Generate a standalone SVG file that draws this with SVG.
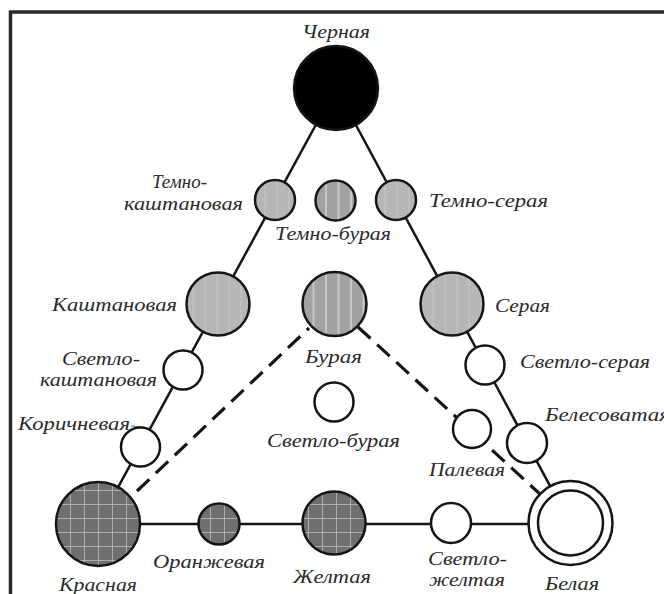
<svg xmlns="http://www.w3.org/2000/svg" width="664" height="594" viewBox="0 0 664 594">
<style>
.lbl{font-family:"Liberation Serif","DejaVu Serif",serif;font-style:italic;font-size:19px;fill:#2a2a2a}
.edge{stroke:#151515;stroke-width:2.5;fill:none}
.dash{stroke:#151515;stroke-width:3.2;fill:none;stroke-dasharray:17 9}
.node{stroke:#151515;stroke-width:2.5}
.white{fill:#ffffff}
</style>
<defs>
<pattern id="grid" patternUnits="userSpaceOnUse" width="14" height="14">
<rect width="14" height="14" fill="#6f6f6f"/>
<path d="M0.5 0V14M0 0.5H14" stroke="#b4b4b4" stroke-width="0.9"/>
</pattern>
<pattern id="stripes" patternUnits="userSpaceOnUse" width="12.5" height="10">
<rect width="12.5" height="10" fill="#a2a2a2"/>
<path d="M1 0V10" stroke="#dedede" stroke-width="1.2"/>
</pattern>
<pattern id="light" patternUnits="userSpaceOnUse" width="12" height="12">
<rect width="12" height="12" fill="#b6b6b6"/>
<path d="M1 0V12" stroke="#c6c6c6" stroke-width="1"/>
</pattern>
</defs>
<rect width="664" height="594" fill="#ffffff"/>
<path d="M10.5 600V12H670" fill="none" stroke="#2a2a2a" stroke-width="3.5"/>
<g id="connectors">
<line class="edge" x1="336" y1="88" x2="98" y2="524"/>
<line class="edge" x1="336" y1="88" x2="570" y2="523"/>
<line class="edge" x1="98" y1="524" x2="570" y2="524"/>
<line class="dash" x1="137" y1="491" x2="309" y2="328"/>
<line class="dash" x1="358" y1="327" x2="541" y2="495"/>
<line x1="131" y1="426" x2="144" y2="427" stroke="#666" stroke-width="1.2"/>
</g>
<g id="chernaya"><circle class="node" cx="336" cy="88" r="42" fill="#000"/><text class="lbl" x="302" y="38" textLength="68" lengthAdjust="spacingAndGlyphs">Черная</text></g>
<g id="temno-kashtanovaya"><circle class="node" cx="275" cy="200" r="20" fill="url(#light)"/><text class="lbl" x="152" y="188" textLength="55" lengthAdjust="spacingAndGlyphs">Темно-</text><text class="lbl" x="124" y="210" textLength="119" lengthAdjust="spacingAndGlyphs">каштановая</text></g>
<g id="temno-buraya"><circle class="node" cx="335.5" cy="200.5" r="20" fill="url(#stripes)"/><text class="lbl" x="275" y="240" textLength="116" lengthAdjust="spacingAndGlyphs">Темно-бурая</text></g>
<g id="temno-seraya"><circle class="node" cx="396" cy="200" r="20" fill="url(#light)"/><text class="lbl" x="429" y="207" textLength="119" lengthAdjust="spacingAndGlyphs">Темно-серая</text></g>
<g id="kashtanovaya"><circle class="node" cx="218" cy="304" r="31.5" fill="url(#light)"/><text class="lbl" x="52" y="311" textLength="125" lengthAdjust="spacingAndGlyphs">Каштановая</text></g>
<g id="buraya"><circle class="node" cx="334.5" cy="304" r="32" fill="url(#stripes)"/><text class="lbl" x="305" y="363" textLength="57" lengthAdjust="spacingAndGlyphs">Бурая</text></g>
<g id="seraya"><circle class="node" cx="452" cy="304" r="31.5" fill="url(#light)"/><text class="lbl" x="495" y="312" textLength="55" lengthAdjust="spacingAndGlyphs">Серая</text></g>
<g id="svetlo-kashtanovaya"><circle class="node white" cx="183" cy="370" r="19.5"/><text class="lbl" x="62" y="365" textLength="78" lengthAdjust="spacingAndGlyphs">Светло-</text><text class="lbl" x="40" y="386" textLength="117" lengthAdjust="spacingAndGlyphs">каштановая</text></g>
<g id="svetlo-seraya"><circle class="node white" cx="485" cy="365" r="19.5"/><text class="lbl" x="520" y="368" textLength="130" lengthAdjust="spacingAndGlyphs">Светло-серая</text></g>
<g id="svetlo-buraya"><circle class="node white" cx="334" cy="402" r="19.5"/><text class="lbl" x="267" y="447" textLength="133" lengthAdjust="spacingAndGlyphs">Светло-бурая</text></g>
<g id="korichnevaya"><circle class="node white" cx="140.5" cy="447" r="19.5"/><text class="lbl" x="18" y="430" textLength="112" lengthAdjust="spacingAndGlyphs">Коричневая</text></g>
<g id="palevaya"><circle class="node white" cx="472" cy="429" r="19"/><text class="lbl" x="429" y="476" textLength="76" lengthAdjust="spacingAndGlyphs">Палевая</text></g>
<g id="belesovataya"><circle class="node white" cx="527" cy="443" r="20"/><text class="lbl" x="545" y="421" textLength="125" lengthAdjust="spacingAndGlyphs">Белесоватая</text></g>
<g id="krasnaya"><circle class="node" cx="98" cy="524" r="42" fill="url(#grid)"/><text class="lbl" x="59" y="591" textLength="78" lengthAdjust="spacingAndGlyphs">Красная</text></g>
<g id="oranzhevaya"><circle class="node" cx="219" cy="524" r="20.5" fill="url(#grid)"/><text class="lbl" x="153" y="568" textLength="112" lengthAdjust="spacingAndGlyphs">Оранжевая</text></g>
<g id="zheltaya"><circle class="node" cx="334" cy="523" r="31.5" fill="url(#grid)"/><text class="lbl" x="293" y="583" textLength="78" lengthAdjust="spacingAndGlyphs">Желтая</text></g>
<g id="svetlo-zheltaya"><circle class="node white" cx="451" cy="523" r="20"/><text class="lbl" x="428" y="565" textLength="79" lengthAdjust="spacingAndGlyphs">Светло-</text><text class="lbl" x="429" y="586" textLength="76" lengthAdjust="spacingAndGlyphs">желтая</text></g>
<g id="belaya"><circle class="node white" cx="570.5" cy="523" r="42"/><circle class="node white" cx="570.5" cy="523" r="32.5"/><text class="lbl" x="545" y="590" textLength="54" lengthAdjust="spacingAndGlyphs">Белая</text></g>
</svg>
